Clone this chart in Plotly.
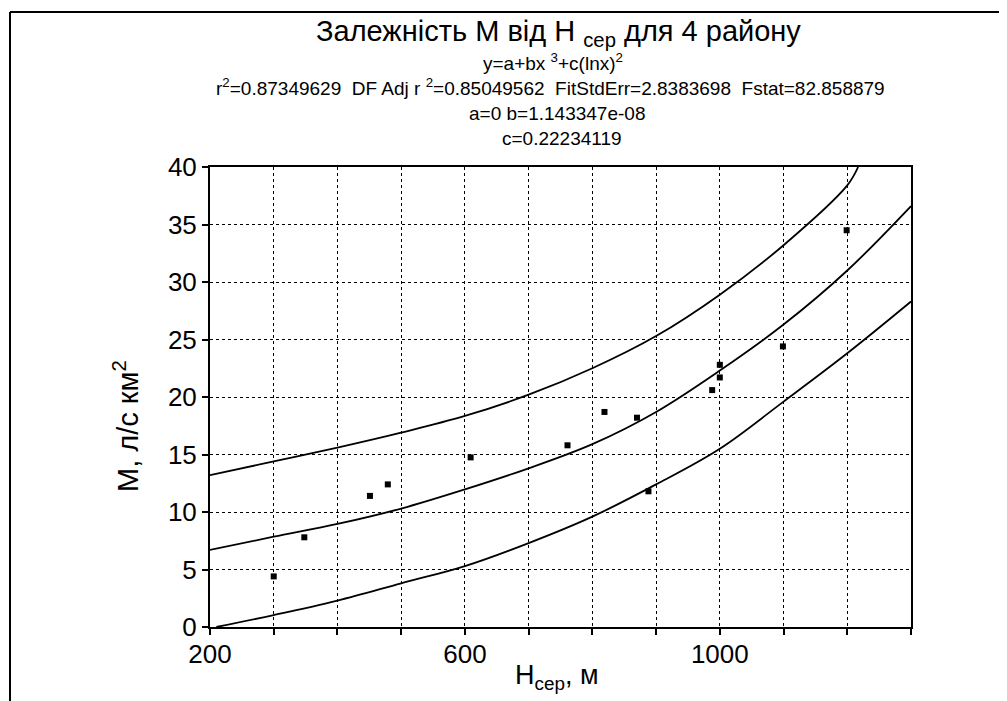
import plotly.graph_objects as go

# ---------------- data ----------------
H_points = [300, 348, 451, 479, 609, 761, 819, 870, 888, 988, 1000, 1000, 1099, 1199]
M_points = [4.4, 7.8, 11.4, 12.4, 14.75, 15.8, 18.7, 18.2, 11.8, 20.6, 21.7, 22.8, 24.4, 34.5]

mid_H = [200, 300, 400, 500, 600, 700, 800, 900, 1000, 1100, 1200, 1300]
mid_M = [6.7, 7.85, 8.96, 10.3, 11.97, 13.8, 15.9, 18.7, 22.3, 26.3, 31.0, 36.6]

upper_H = [200, 300, 400, 500, 600, 700, 800, 900, 1000, 1100, 1200, 1217]
upper_M = [13.2, 14.4, 15.6, 16.9, 18.35, 20.2, 22.5, 25.3, 28.9, 33.2, 38.4, 40.0]

lower_H = [210, 300, 400, 500, 600, 700, 800, 900, 1000, 1100, 1200, 1300]
lower_M = [0.0, 1.04, 2.3, 3.8, 5.3, 7.3, 9.6, 12.4, 15.5, 19.6, 23.8, 28.3]

x_tickvals = [200, 300, 400, 500, 600, 700, 800, 900, 1000, 1100, 1200, 1300]
x_ticktext = ["200", "", "", "", "600", "", "", "", "1000", "", "", ""]
y_tickvals = [0, 5, 10, 15, 20, 25, 30, 35, 40]

title_lines = [
    "Залежність М від Н <sub>сер</sub> для 4 району",
    "y=a+bx <sup>3</sup>+c(lnx)<sup>2</sup>",
    "r<sup>2</sup>=0.87349629  DF Adj r <sup>2</sup>=0.85049562  FitStdErr=2.8383698  Fstat=82.858879",
    "a=0 b=1.143347e-08",
    "c=0.22234119",
]
x_title = "Н<sub>сер</sub>, м"
y_title = "М, л/с км<sup>2</sup>"

# ---------------- layout constants ----------------
OFF = 8                      # default page (body) margin of the browser
W, HGT = 1007 - OFF, 701 - OFF
ML, MT = 210 - OFF, 167 - OFF
MR = W - (911 - OFF)
MB = HGT - (627 - OFF)
PW, PH = W - ML - MR, HGT - MT - MB
FONT = "Arial, Liberation Sans, sans-serif"


def px_to_paper_x(px):
    return (px - OFF - ML) / PW


def px_to_paper_y(py):
    return (HGT - MB - (py - OFF)) / PH


fig = go.Figure()

line_style = dict(color="black", width=1.8, shape="spline", smoothing=1.0)
fig.add_trace(go.Scatter(x=upper_H, y=upper_M, mode="lines", line=line_style, hoverinfo="skip"))
fig.add_trace(go.Scatter(x=mid_H, y=mid_M, mode="lines", line=line_style, hoverinfo="skip"))
fig.add_trace(go.Scatter(x=lower_H, y=lower_M, mode="lines", line=line_style, hoverinfo="skip"))
fig.add_trace(go.Scatter(
    x=H_points, y=M_points, mode="markers",
    marker=dict(symbol="square", size=6, color="black"),
))

axis_common = dict(
    showgrid=True, gridcolor="black", griddash="dot", gridwidth=1,
    showline=True, linecolor="black", linewidth=2, mirror=True,
    ticks="outside", ticklen=6, tickcolor="black", tickwidth=1.5,
    zeroline=False, tickfont=dict(family=FONT, size=26, color="black"),
)

fig.update_layout(
    width=W, height=HGT,
    margin=dict(l=ML, r=MR, t=MT, b=MB, pad=0),
    paper_bgcolor="white", plot_bgcolor="white",
    showlegend=False,
    font=dict(family=FONT, color="black"),
    xaxis=dict(range=[200, 1300], tickmode="array", tickvals=x_tickvals,
               ticktext=x_ticktext, ticklabelstandoff=-3, **axis_common),
    yaxis=dict(range=[0, 40], tickmode="array", tickvals=y_tickvals, **axis_common),
)

# title block
title_y_px = [33, 62, 87, 113, 139]
title_sizes = [29, 19, 19, 19, 19]
title_x_px = [558, 553, 550, 557, 562]
for txt, ypx, sz, xpx in zip(title_lines, title_y_px, title_sizes, title_x_px):
    fig.add_annotation(
        text=txt, xref="paper", yref="paper",
        x=px_to_paper_x(xpx), y=px_to_paper_y(ypx),
        xanchor="center", yanchor="middle", showarrow=False,
        font=dict(family=FONT, size=sz, color="black"),
    )

# axis titles
fig.add_annotation(
    text=x_title, xref="paper", yref="paper",
    x=px_to_paper_x(557), y=px_to_paper_y(677),
    xanchor="center", yanchor="middle", showarrow=False,
    font=dict(family=FONT, size=27, color="black"),
)
fig.add_annotation(
    text=y_title, xref="paper", yref="paper", textangle=-90,
    x=px_to_paper_x(126), y=px_to_paper_y(426),
    xanchor="center", yanchor="middle", showarrow=False,
    font=dict(family=FONT, size=29, color="black"),
)

# outer frame (top and left edges of the scanned figure box)
frame_left, frame_top = 10, 12
fig.add_shape(type="line", xref="paper", yref="paper",
              x0=px_to_paper_x(frame_left), x1=px_to_paper_x(1007),
              y0=px_to_paper_y(frame_top), y1=px_to_paper_y(frame_top),
              line=dict(color="black", width=2))
fig.add_shape(type="line", xref="paper", yref="paper",
              x0=px_to_paper_x(frame_left), x1=px_to_paper_x(frame_left),
              y0=px_to_paper_y(frame_top), y1=px_to_paper_y(701),
              line=dict(color="black", width=2))

fig.write_html("out.html")
